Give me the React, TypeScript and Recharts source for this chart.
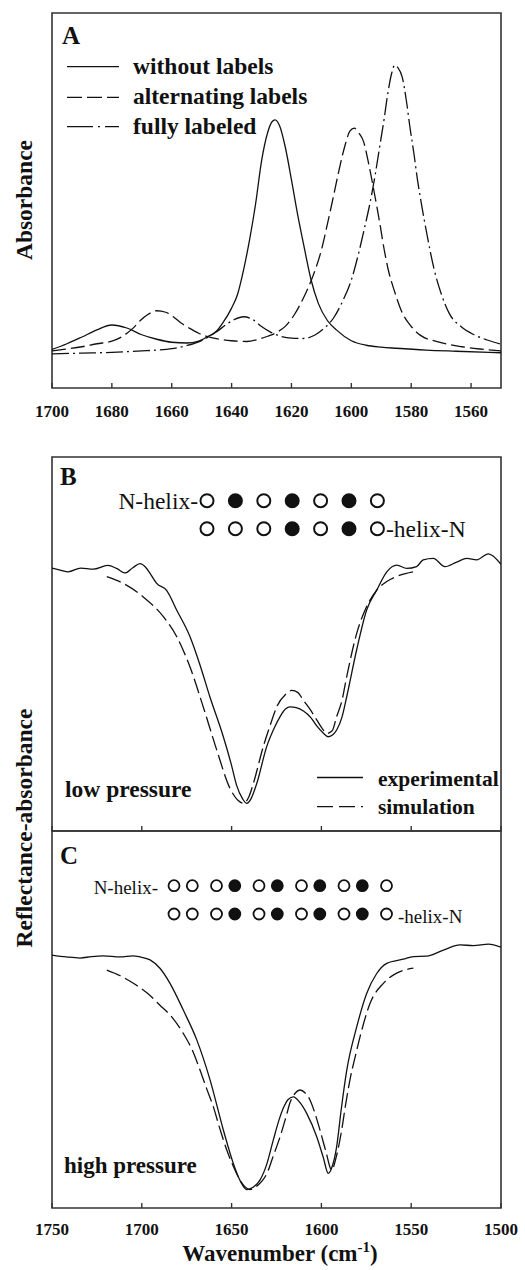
import { LineChart, Line, XAxis, YAxis, ReferenceArea } from 'recharts';

// Panel A: absorbance (arbitrary units), [wavenumber, value]
const withoutLabels: [number, number][] = [
  [1700, 10.3], [1695, 11.8], [1690, 13.6], [1685, 15.5], [1680, 16.8], [1675, 16.0], [1670, 14.2],
  [1665, 13.0], [1660, 12.2], [1655, 12.0], [1651, 12.5], [1648, 13.7], [1645, 15.2], [1643, 17.3],
  [1640, 21.3], [1638, 25.0], [1636, 31.5], [1634, 39.5], [1632, 49.0], [1630, 60.5], [1628, 68.0],
  [1626.5, 71.0], [1625.5, 71.5], [1624, 70.0], [1622, 64.0], [1620, 55.5], [1618, 46.5], [1616, 38.5],
  [1613.5, 29.0], [1611, 22.5], [1608, 18.0], [1605, 15.5], [1600, 12.6], [1595, 11.4], [1590, 10.9],
  [1585, 10.6], [1575, 10.1], [1565, 9.8], [1550, 9.4],
];
const alternatingLabels: [number, number][] = [
  [1700, 9.9], [1695, 10.4], [1690, 11.0], [1685, 11.8], [1680, 12.5], [1676, 14.0], [1673, 15.9],
  [1670.5, 18.0], [1668, 19.6], [1665, 20.6], [1662, 20.2], [1659.5, 19.0], [1657, 17.4], [1654, 15.9],
  [1651, 14.6], [1648, 13.7], [1644, 13.0], [1640, 12.6], [1635, 12.4], [1631, 13.0], [1628, 13.8],
  [1625, 14.8], [1622, 16.5], [1619, 19.6], [1616, 24.0], [1613, 29.5], [1610, 36.8], [1608, 43.7],
  [1606, 51.0], [1604, 58.5], [1602, 65.0], [1600.5, 68.5], [1599, 69.3], [1597.5, 68.0], [1596, 65.9],
  [1594, 59.0], [1592.5, 52.8], [1590.5, 44.0], [1589, 36.8], [1587.5, 31.0], [1585.7, 26.1],
  [1583.4, 20.8], [1580, 16.4], [1577, 14.1], [1571, 12.3], [1563, 11.0], [1557, 10.4], [1550, 9.9],
];
const fullyLabeled: [number, number][] = [
  [1700, 9.1], [1690, 9.3], [1680, 9.5], [1670, 9.9], [1665, 10.1], [1660, 10.5], [1655, 11.3],
  [1651, 12.3], [1648, 13.5], [1645, 15.0], [1642, 16.8], [1639, 18.3], [1636, 19.0], [1633, 18.3],
  [1630, 16.4], [1627, 14.9], [1624, 13.9], [1620, 13.3], [1616, 13.2], [1612, 14.2], [1609, 16.0],
  [1606, 18.6], [1603, 23.0], [1600, 28.8], [1597.3, 36.8], [1595.5, 43.0], [1594, 48.4], [1592, 57.0],
  [1590.7, 63.5], [1589, 72.0], [1588, 77.6], [1586.5, 84.0], [1585.5, 86.1], [1584.5, 85.5],
  [1583, 82.9], [1581.5, 76.0], [1580.5, 70.0], [1579, 62.0], [1577.9, 55.5], [1576.8, 50.1],
  [1574.6, 40.4], [1572.3, 31.5], [1570, 25.2], [1567.3, 19.9], [1563.4, 16.4], [1559, 14.2],
  [1554.6, 12.8], [1550, 11.7],
];

// Panel B: low pressure, reflectance-absorbance (arbitrary units)
const expLow: [number, number][] = [
  [1750, 70.3], [1745, 69.7], [1741, 69.3], [1734, 70.3], [1727, 70.0], [1719, 71.0], [1714, 70.2],
  [1709.4, 69.0], [1705, 70.4], [1701, 71.5], [1698, 70.6], [1695.4, 68.9], [1691.7, 66.2],
  [1686.1, 64.3], [1680.6, 59.1], [1673.2, 52.0], [1667.6, 44.4], [1662.1, 35.9], [1654.6, 25.2],
  [1650, 17.5], [1647.2, 12.2], [1644, 8.7], [1641.6, 7.4], [1639, 8.8], [1636, 12.7], [1630.5, 22.5],
  [1626, 27.8], [1623, 30.6], [1620, 32.6], [1617.5, 33.2], [1614, 33.0], [1610, 32.1], [1606, 30.4],
  [1602.6, 28.1], [1599, 26.2], [1596.2, 25.2], [1593.5, 25.8], [1591.5, 27.0], [1588.5, 30.5],
  [1585.9, 35.9], [1580.3, 48.6], [1574.8, 59.1], [1569.2, 64.4], [1563.6, 69.3], [1558, 71.1],
  [1552.5, 70.2], [1547, 70.7], [1543.3, 72.5], [1537.7, 72.9], [1531.2, 70.7], [1524.7, 71.9],
  [1519, 72.9], [1513.5, 72.5], [1507, 74.1], [1500, 71.3],
];
const simLow: [number, number][] = [
  [1719.5, 68.0], [1710.3, 66.2], [1699.2, 62.6], [1688, 57.3], [1680.6, 52.0], [1673.2, 43.9],
  [1665.8, 33.2], [1658.3, 21.7], [1650.9, 11.4], [1646.5, 8.2], [1643.5, 7.4], [1640.5, 9.0],
  [1637.9, 12.7], [1632.4, 22.5], [1628, 29.0], [1624.9, 33.2], [1620, 36.5], [1616.5, 37.6],
  [1613, 37.0], [1610.1, 35.0], [1606, 32.3], [1602.6, 29.7], [1599.5, 27.4], [1597, 26.1],
  [1594, 26.8], [1591.5, 30.6], [1588.5, 35.0], [1585.9, 41.3], [1580.3, 52.9], [1574.8, 60.0],
  [1569.2, 64.4], [1563.6, 66.7], [1556.2, 68.4], [1549, 69.3],
];

// Panel C: high pressure
const expHigh: [number, number][] = [
  [1750, 67.1], [1742, 66.6], [1734.4, 66.3], [1728, 66.7], [1721.4, 66.9], [1712, 66.6],
  [1705, 66.9], [1701, 66.6], [1695.4, 65.8], [1689.9, 63.6], [1684.3, 59.6], [1676.9, 52.5],
  [1669.4, 44.6], [1662, 34.0], [1654.6, 20.7], [1649.1, 11.9], [1645, 7.0], [1641.6, 4.9],
  [1638, 5.5], [1634.2, 7.4], [1630.5, 11.5], [1626.8, 18.0], [1623.5, 23.5], [1621.2, 26.5],
  [1618.5, 28.8], [1615.6, 29.5], [1612, 28.0], [1608.2, 25.1], [1602.6, 18.9], [1599, 13.5],
  [1596.2, 9.2], [1594, 11.0], [1591.5, 16.3], [1589, 26.0], [1585.9, 36.5], [1580.3, 48.1],
  [1574.8, 56.9], [1569.2, 62.2], [1563.6, 64.9], [1554.4, 66.0], [1548.8, 66.7], [1541.4, 66.8],
  [1532.1, 68.4], [1522.8, 69.8], [1515.4, 69.6], [1507, 70.0], [1500, 69.2],
];
const simHigh: [number, number][] = [
  [1719.5, 63.1], [1712, 61.6], [1704.7, 59.6], [1697, 57.0], [1689.9, 53.8], [1683, 50.5],
  [1676.9, 46.3], [1672, 42.0], [1667.6, 36.6], [1664, 31.8], [1660.2, 26.9], [1656.5, 21.0],
  [1652.7, 15.4], [1649, 11.0], [1645.3, 7.4], [1642.5, 5.6], [1639.8, 4.9], [1636, 5.8], [1633, 7.2],
  [1630.5, 9.0], [1626.8, 13.8], [1623, 18.9], [1619.5, 24.5], [1617.5, 27.9], [1614.5, 30.5],
  [1611.9, 31.3], [1609, 30.5], [1606.3, 28.6], [1603.5, 25.0], [1600.8, 20.7], [1597.5, 15.0],
  [1594.3, 10.1], [1591.5, 14.0], [1588.7, 20.7], [1586.5, 27.5], [1584.1, 34.0], [1581, 40.5],
  [1578.5, 45.4], [1572.9, 54.3], [1565.5, 59.6], [1558.1, 62.3], [1548.8, 63.6],
];

const ticksA = [1700, 1680, 1660, 1640, 1620, 1600, 1580, 1560];
const ticksBC = [1750, 1700, 1650, 1600, 1550, 1500];

// strand labeling, 1 = isotope labeled (filled circle)
const lowTop = [0, 1, 0, 1, 0, 1, 0];
const lowBottom = [0, 0, 0, 1, 0, 1, 0];
const highTop = [0, 0, 0, 1, 0, 1, 0, 1, 0, 1, 0];
const highBottom = [0, 0, 0, 1, 0, 1, 0, 1, 0, 1, 0];

const serif = "'Liberation Serif', 'Times New Roman', serif";
const ink = '#111';
const frame = '#333';

const rows = (a: [number, number][]) => a.map(([w, v]) => ({ w, v }));

const makeTick = (withLabel: boolean, gap: number) => (p: any) => (
  <g>
    <line x1={p.x} y1={p.y} x2={p.x} y2={p.y - 5} stroke={frame} strokeWidth={1.4} />
    {withLabel && (
      <text x={p.x} y={p.y + gap} textAnchor="middle" fontFamily={serif} fontWeight="bold" fontSize={17} fill={ink}>
        {p.payload.value}
      </text>
    )}
  </g>
);

interface Series { data: [number, number][]; dash?: string }

function Panel(props: {
  height: number; top: number; axisHeight: number; domain: [number, number];
  ticks: number[]; labels: boolean; gap: number; series: Series[];
}) {
  const { height, top, axisHeight, domain, ticks, labels, gap, series } = props;
  return (
    <LineChart width={525} height={height} margin={{ top, right: 24, bottom: 0, left: 52 }}>
      <XAxis
        dataKey="w" type="number" domain={domain} reversed allowDataOverflow
        ticks={ticks} interval={0} tickSize={0} tickMargin={0}
        axisLine={false} tickLine={false} height={axisHeight}
        tick={makeTick(labels, gap)}
      />
      <YAxis hide type="number" domain={[0, 100]} allowDataOverflow />
      <ReferenceArea
        x1={domain[0]} x2={domain[1]} y1={0} y2={100}
        fill="none" fillOpacity={0} stroke={frame} strokeWidth={1.6} ifOverflow="visible"
      />
      {series.map((s, i) => (
        <Line
          key={i} data={rows(s.data)} dataKey="v" type="monotone"
          stroke={ink} strokeWidth={1.3} strokeDasharray={s.dash}
          dot={false} activeDot={false} isAnimationActive={false}
        />
      ))}
    </LineChart>
  );
}

const txt = { fontFamily: serif, fill: ink } as const;

function Circles({ pattern, xs, y, r, sw }: { pattern: number[]; xs: number[]; y: number; r: number; sw: number }) {
  return (
    <g>
      {pattern.map((f, i) => (
        <circle key={i} cx={xs[i]} cy={y} r={r} fill={f ? ink : '#fff'} stroke={ink} strokeWidth={sw} />
      ))}
    </g>
  );
}

export default function App() {
  const xsLow = lowTop.map((_, i) => 207 + i * 28.4);
  const xsHigh = highTop.map((_, i) => 174 + Math.floor(i / 2) * 42.5 + (i % 2) * 18.3);
  return (
    <div style={{ position: 'absolute', left: 0, top: 0, width: 525, height: 1270, background: '#fff' }}>
      <div style={{ position: 'absolute', left: 0, top: 0 }}>
        <Panel
          height={430} top={13} axisHeight={42} domain={[1550, 1700]} ticks={ticksA} labels gap={29}
          series={[
            { data: withoutLabels },
            { data: alternatingLabels, dash: '14 5' },
            { data: fullyLabeled, dash: '17 4 2 4' },
          ]}
        />
      </div>
      <div style={{ position: 'absolute', left: 0, top: 440 }}>
        <Panel
          height={400} top={17} axisHeight={9} domain={[1500, 1750]} ticks={ticksBC} labels={false} gap={0}
          series={[{ data: expLow }, { data: simLow, dash: '15 5' }]}
        />
      </div>
      <div style={{ position: 'absolute', left: 0, top: 820 }}>
        <Panel
          height={450} top={11} axisHeight={62} domain={[1500, 1750]} ticks={ticksBC} labels gap={27}
          series={[{ data: expHigh }, { data: simHigh, dash: '15 5' }]}
        />
      </div>

      <svg width={525} height={1270} style={{ position: 'absolute', left: 0, top: 0, pointerEvents: 'none' }}>
        {/* panel A */}
        <text x={62} y={44} {...txt} fontWeight="bold" fontSize={25}>A</text>
        <g stroke={ink} strokeWidth={1.3}>
          <line x1={67} x2={119} y1={66.7} y2={66.7} />
          <line x1={67} x2={119} y1={97.3} y2={97.3} strokeDasharray="15 5" />
          <line x1={67} x2={119} y1={126.7} y2={126.7} strokeDasharray="26 5 2 5" />
        </g>
        <g {...txt} fontWeight="bold" fontSize={23.5}>
          <text x={133} y={74}>without labels</text>
          <text x={133} y={104}>alternating labels</text>
          <text x={133} y={133.5}>fully labeled</text>
        </g>
        <text transform="translate(32,200) rotate(-90)" textAnchor="middle" {...txt} fontWeight="bold" fontSize={23.5}>
          Absorbance
        </text>

        {/* panel B */}
        <text x={60} y={485} {...txt} fontWeight="bold" fontSize={25}>B</text>
        <text x={198} y={508.5} textAnchor="end" {...txt} fontSize={23.5}>N-helix-</text>
        <Circles pattern={lowTop} xs={xsLow} y={500.7} r={6.5} sw={2} />
        <Circles pattern={lowBottom} xs={xsLow} y={528.7} r={6.5} sw={2} />
        <text x={386} y={536.5} {...txt} fontSize={23.5}>-helix-N</text>
        <text x={65} y={797} {...txt} fontWeight="bold" fontSize={23.5}>low pressure</text>
        <g stroke={ink} strokeWidth={1.3}>
          <line x1={317} x2={363} y1={777.5} y2={777.5} />
          <line x1={317} x2={363} y1={806.7} y2={806.7} strokeDasharray="16 6" />
        </g>
        <g {...txt} fontWeight="bold" fontSize={21.5}>
          <text x={378} y={786}>experimental</text>
          <text x={378} y={813.5}>simulation</text>
        </g>

        {/* panel C */}
        <text x={60} y={864} {...txt} fontWeight="bold" fontSize={25}>C</text>
        <text x={158} y={893.5} textAnchor="end" {...txt} fontSize={19}>N-helix-</text>
        <Circles pattern={highTop} xs={xsHigh} y={885.7} r={5.5} sw={1.8} />
        <Circles pattern={highBottom} xs={xsHigh} y={914} r={5.5} sw={1.8} />
        <text x={398} y={923} {...txt} fontSize={19}>-helix-N</text>
        <text x={64} y={1173} {...txt} fontWeight="bold" fontSize={23}>high pressure</text>

        <text transform="translate(32,828) rotate(-90)" textAnchor="middle" {...txt} fontWeight="bold" fontSize={23.5}>
          Reflectance-absorbance
        </text>
        <text x={280} y={1261} textAnchor="middle" {...txt} fontWeight="bold" fontSize={23}>
          Wavenumber (cm<tspan dy={-9} fontSize={15}>-1</tspan><tspan dy={9}>)</tspan>
        </text>
      </svg>
    </div>
  );
}
